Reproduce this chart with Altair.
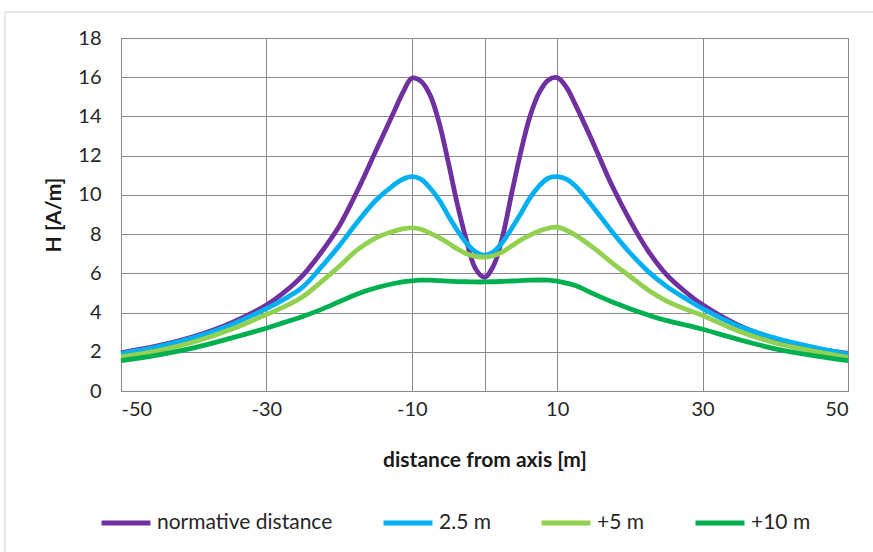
import altair as alt
import pandas as pd

# distance from axis [m]
distance = [-50, -45, -40, -35, -30, -27.5, -25, -22.5, -20, -17.5, -15, -12.5,
            -11.25, -10, -8.75, -7.5, -6.25, -5, -3.75, -2.5, -1.25, 0,
            1.25, 2.5, 3.75, 5, 6.25, 7.5, 8.75, 10, 11.25,
            12.5, 15, 17.5, 20, 22.5, 25, 27.5, 30, 35, 40, 45, 50]

normative = [1.95, 2.3, 2.78, 3.45, 4.38, 5.05, 5.9, 7.05, 8.4, 10.2, 12.2, 14.2,
             15.2, 15.95, 15.8, 15.1, 13.7, 11.7, 9.55, 7.7, 6.25, 5.8,
             6.4, 7.9, 10.1, 12.2, 14.0, 15.2, 15.85, 15.98, 15.5,
             14.6, 12.6, 10.5, 8.7, 7.15, 5.95, 5.1, 4.4, 3.35, 2.65, 2.2, 1.92]
m25 = [1.9, 2.25, 2.72, 3.36, 4.2, 4.7, 5.3, 6.3, 7.4, 8.6, 9.7, 10.5,
       10.8, 10.93, 10.8, 10.35, 9.75, 8.95, 8.2, 7.55, 7.1, 6.93,
       7.1, 7.6, 8.3, 9.05, 9.85, 10.45, 10.85, 10.93, 10.8,
       10.45, 9.35, 8.15, 7.05, 6.1, 5.35, 4.75, 4.2, 3.3, 2.7, 2.25, 1.88]
m5 = [1.75, 2.05, 2.5, 3.12, 3.9, 4.3, 4.8, 5.55, 6.35, 7.2, 7.8, 8.15,
      8.27, 8.32, 8.25, 8.05, 7.82, 7.55, 7.25, 7.0, 6.87, 6.83,
      6.9, 7.1, 7.4, 7.7, 7.95, 8.15, 8.3, 8.35, 8.2,
      7.95, 7.3, 6.55, 5.85, 5.15, 4.6, 4.2, 3.85, 3.05, 2.45, 2.05, 1.72]
m10 = [1.55, 1.83, 2.2, 2.68, 3.2, 3.5, 3.8, 4.15, 4.55, 4.95, 5.25, 5.48,
       5.57, 5.62, 5.65, 5.65, 5.63, 5.6, 5.58, 5.57, 5.56, 5.56,
       5.57, 5.59, 5.61, 5.63, 5.65, 5.66, 5.65, 5.6, 5.5,
       5.38, 4.95, 4.55, 4.2, 3.88, 3.6, 3.38, 3.15, 2.62, 2.15, 1.82, 1.55]

series_names = ["normative distance", "2.5 m", "+5 m", "+10 m"]
series_values = [normative, m25, m5, m10]
series_colors = ["#7030A0", "#00B0F0", "#92D050", "#00B050"]

x_ticks = [-50, -30, -10, 0, 10, 30, 50]
y_ticks = [0, 2, 4, 6, 8, 10, 12, 14, 16, 18]

rows = []
for order, (name, vals) in enumerate(zip(series_names, series_values)):
    for d, v in zip(distance, vals):
        rows.append({"distance": d, "H": v, "series": name, "order": order})
df = pd.DataFrame(rows)

FONT = "Lato"

lines = alt.Chart(df).mark_line(strokeWidth=4.8, interpolate="catmull-rom").encode(
    x=alt.X("distance:Q",
            scale=alt.Scale(domain=[-50, 50], nice=False),
            axis=alt.Axis(values=x_ticks, title="distance from axis [m]",
                          labelExpr="datum.value == 0 ? '' : '' + datum.value",
                          ticks=False, labelPadding=8, titlePadding=30,
                          domain=False)),
    y=alt.Y("H:Q",
            scale=alt.Scale(domain=[0, 18], nice=False),
            axis=alt.Axis(values=y_ticks, title="H [A/m]", ticks=False,
                          labelPadding=20, titlePadding=13, domain=False)),
    color=alt.Color("series:N",
                    scale=alt.Scale(domain=series_names, range=series_colors),
                    legend=alt.Legend(title=None, orient="none", direction="horizontal",
                                      legendX=-22, legendY=458,
                                      symbolType="stroke", symbolSize=2400,
                                      symbolStrokeWidth=4.8, columnPadding=40,
                                      labelFontSize=21, labelFont=FONT, labelLimit=0,
                                      labelColor="#262626", labelOffset=4)),
    order=alt.Order("order:Q"),
)

frame = alt.Chart(pd.DataFrame({"a": [0]})).mark_rect(
    fill=None, stroke="#d0d0d0", strokeWidth=1
).encode(x=alt.value(-116), x2=alt.value(760), y=alt.value(-26), y2=alt.value(540))

chart = alt.layer(frame, lines).properties(
    width=727, height=353,
    autosize=alt.AutoSizeParams(type="none"),
    padding={"left": 121, "top": 38, "right": 25, "bottom": 161},
    background="white",
).configure_view(
    stroke="#8a8a8a", strokeWidth=1
).configure_axis(
    grid=True, gridColor="#8a8a8a", gridWidth=1, gridOpacity=1,
    labelFont=FONT, labelFontSize=20, labelColor="#262626",
    titleFont=FONT, titleFontSize=21, titleFontWeight="bold", titleColor="#1a1a1a",
)

chart.save("out.html", embed_options={"renderer": "svg", "actions": False})
